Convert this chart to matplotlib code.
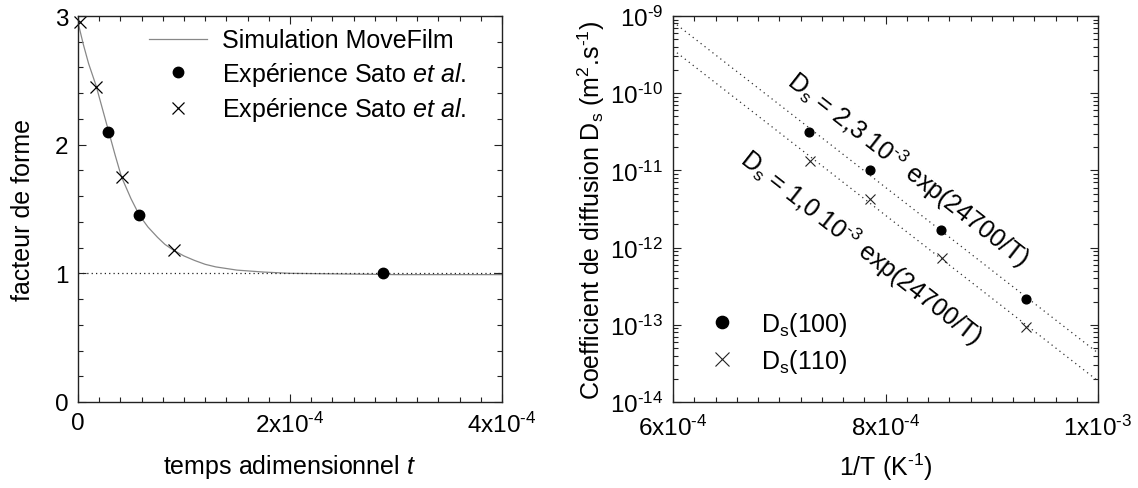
import numpy as np
import matplotlib
matplotlib.use("Agg")
import matplotlib.pyplot as plt
from matplotlib.ticker import MultipleLocator, FixedLocator, FixedFormatter, LogLocator, NullFormatter

plt.rcParams['font.family'] = ['Liberation Sans', 'DejaVu Sans']
plt.rcParams['mathtext.fontset'] = 'custom'
plt.rcParams['mathtext.rm'] = 'Liberation Sans'
plt.rcParams['mathtext.it'] = 'Liberation Sans:italic'
plt.rcParams['mathtext.bf'] = 'Liberation Sans:bold'

# ---------------- data: left panel ----------------
sim_t = [0.0, 0.05e-4, 0.10e-4, 0.17e-4, 0.23e-4, 0.29e-4, 0.35e-4, 0.41e-4, 0.50e-4,
         0.58e-4, 0.66e-4, 0.75e-4, 0.82e-4, 0.90e-4, 1.00e-4, 1.10e-4, 1.20e-4, 1.30e-4,
         1.50e-4, 1.75e-4, 2.00e-4, 2.50e-4, 3.00e-4, 3.50e-4, 4.00e-4]
sim_f = [2.95, 2.78, 2.63, 2.46, 2.28, 2.10, 1.92, 1.75, 1.58,
         1.45, 1.36, 1.28, 1.225, 1.18, 1.135, 1.10, 1.07, 1.05,
         1.025, 1.01, 1.0, 0.995, 0.99, 0.99, 0.99]
dots_t = [0.286e-4, 0.575e-4, 2.876e-4]
dots_f = [2.10, 1.45, 1.00]
cross_t = [0.02e-4, 0.168e-4, 0.414e-4, 0.905e-4]
cross_f = [2.955, 2.45, 1.75, 1.178]

# ---------------- data: right panel ----------------
inv_T_100 = [7.277e-4, 7.857e-4, 8.525e-4, 9.318e-4]
Ds_100 = [3.14e-11, 1.0e-11, 1.71e-12, 2.14e-13]
inv_T_110 = [7.287e-4, 7.857e-4, 8.532e-4, 9.318e-4]
Ds_110 = [1.32e-11, 4.3e-12, 7.3e-13, 9.4e-14]
fit_prefactors = [2.3e-3, 1.0e-3]
fit_energy = 24700.0
fit_range = [6e-4, 1e-3]

HY = '\u2010'  # hyphen used as minus in exponents
left_xticks = [0, 2e-4, 4e-4]
left_xticklabels = ['0', '2x10$^{%s4}$' % HY, '4x10$^{%s4}$' % HY]
left_yticks = [0, 1, 2, 3]
right_xticks = [6e-4, 8e-4, 1e-3]
right_xticklabels = ['6x10$^{%s4}$' % HY, '8x10$^{%s4}$' % HY, '1x10$^{%s3}$' % HY]
right_yticks = [1e-14, 1e-13, 1e-12, 1e-11, 1e-10, 1e-9]
right_yticklabels = ['10$^{%s%d}$' % (HY, e) for e in (14, 13, 12, 11, 10, 9)]

FS = 18
TFS = 17.5
W, H = 1138, 489
fig = plt.figure(figsize=(W / 100, H / 100), dpi=100)

ax1 = fig.add_axes([78 / W, 1 - 403 / H, 424 / W, 386 / H])
ax2 = fig.add_axes([673 / W, 1 - 403 / H, 425 / W, 386 / H])

for ax in (ax1, ax2):
    for s in ax.spines.values():
        s.set_linewidth(1.0)
        s.set_color('#222222')
    ax.tick_params(which='both', direction='in', top=True, right=True, colors='#222222',
                   labelcolor='black', labelsize=TFS, width=0.8)
    ax.tick_params(which='major', length=6, pad=7)
    ax.tick_params(which='minor', length=3.5)
ax2.tick_params(axis='x', which='major', pad=9)

# ---- left panel ----
ax1.plot(sim_t, sim_f, color='#888888', lw=0.9, label='Simulation MoveFilm')
ax1.axhline(1.0, color='#222222', lw=0.9, ls=(0, (1, 2.5)))
ax1.plot(dots_t, dots_f, 'o', color='black', ms=7.5, ls='none', clip_on=False,
         label=r'Expérience Sato $\it{et\ al.}$')
ax1.plot(cross_t, cross_f, 'x', color='black', ms=8.5, mew=0.9, ls='none', clip_on=False,
         label=r'Expérience Sato $\it{et\ al.}$')
ax1.set_xlim(0, 4e-4)
ax1.set_ylim(0, 3)
ax1.xaxis.set_major_locator(FixedLocator(left_xticks))
ax1.xaxis.set_major_formatter(FixedFormatter(left_xticklabels))
ax1.xaxis.set_minor_locator(MultipleLocator(2e-5))
ax1.yaxis.set_major_locator(FixedLocator(left_yticks))
ax1.yaxis.set_minor_locator(MultipleLocator(0.2))
ax1.set_xlabel(r'temps adimensionnel $\it{t}$', fontsize=FS, labelpad=11)
ax1.set_ylabel('facteur de forme', fontsize=FS, labelpad=14)
leg1 = ax1.legend(loc='upper right', frameon=False, fontsize=FS, handlelength=2.3,
                  handletextpad=0.6, labelspacing=0.3, borderaxespad=0.1,
                  bbox_to_anchor=(0.945, 1.0))

# ---- right panel ----
xs = np.linspace(fit_range[0], fit_range[1], 200)
for A in fit_prefactors:
    ax2.plot(xs, A * np.exp(-fit_energy * xs), color='#333333', lw=0.9, ls=(0, (1, 3)))
ax2.plot(inv_T_100, Ds_100, 'o', color='black', ms=6.3, ls='none', label=r'D$_\mathrm{s}$(100)')
ax2.plot(inv_T_110, Ds_110, 'x', color='#222222', ms=7, mew=0.8, ls='none', label=r'D$_\mathrm{s}$(110)')
ax2.set_yscale('log')
ax2.set_xlim(6e-4, 1e-3)
ax2.set_ylim(1e-14, 1e-9)
ax2.xaxis.set_major_locator(FixedLocator(right_xticks))
ax2.xaxis.set_major_formatter(FixedFormatter(right_xticklabels))
ax2.xaxis.set_minor_locator(MultipleLocator(2e-5))
ax2.yaxis.set_major_locator(FixedLocator(right_yticks))
ax2.yaxis.set_major_formatter(FixedFormatter(right_yticklabels))
ax2.yaxis.set_minor_locator(LogLocator(base=10, subs=np.arange(2, 10), numticks=20))
ax2.yaxis.set_minor_formatter(NullFormatter())
ax2.set_xlabel('1/T (K$^{%s1}$)' % HY, fontsize=FS, labelpad=8)
ax2.set_ylabel('Coefficient de diffusion D$_\\mathrm{s}$ (m$^2$.s$^{%s1}$)' % HY, fontsize=FS, labelpad=2)
leg2 = ax2.legend(loc='lower left', frameon=False, fontsize=FS, handlelength=1.5,
                  handletextpad=0.8, labelspacing=0.35, borderaxespad=0.3,
                  bbox_to_anchor=(0.03, 0.025), markerscale=1.4)

ax2.text(8.21e-4, 1.05e-11, r'D$_\mathrm{s}$ = 2,3 10$^{%s3}$ exp(24700/T)' % HY, fontsize=18,
         rotation=-38, rotation_mode='anchor', ha='center', va='center')
ax2.text(7.77e-4, 1.02e-12, r'D$_\mathrm{s}$ = 1,0 10$^{%s3}$ exp(24700/T)' % HY, fontsize=18,
         rotation=-38, rotation_mode='anchor', ha='center', va='center')

fig.savefig('out.png', dpi=100)
